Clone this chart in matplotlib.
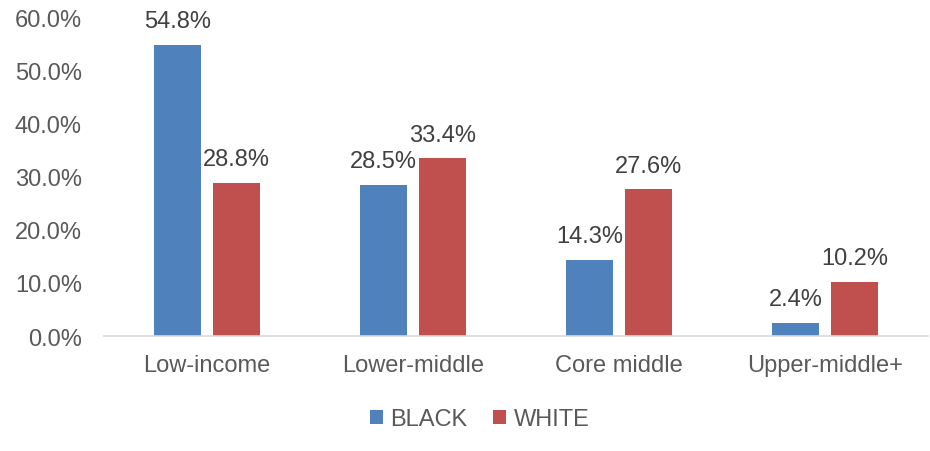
import numpy as np
import matplotlib
matplotlib.use('Agg')
import matplotlib.pyplot as plt
from matplotlib.ticker import FuncFormatter

categories = ['Low-income', 'Lower-middle', 'Core middle', 'Upper-middle+']
black = [54.8, 28.5, 14.3, 2.4]
white = [28.8, 33.4, 27.6, 10.2]
series_names = ['BLACK', 'WHITE']
colors = ['#4F81BD', '#C0504D']

plt.rcParams['font.family'] = ['Liberation Sans', 'DejaVu Sans']

fig = plt.figure(figsize=(9.3, 4.52), dpi=100)
ax = fig.add_axes([0.112, 0.2544, 0.886, 0.7056])

x = np.arange(len(categories))
w = 0.228
off = 0.143
b1 = ax.bar(x - off, black, w, color=colors[0], label=series_names[0])
b2 = ax.bar(x + off, white, w, color=colors[1], label=series_names[1])

for bars, vals in [(b1, black), (b2, white)]:
    for r, v in zip(bars, vals):
        ax.text(r.get_x() + r.get_width() / 2, v + 2.4, '%.1f%%' % v,
                ha='center', va='bottom', fontsize=17, color='#404040')

ax.set_xlim(-0.5, 3.5)
ax.set_ylim(0, 60)
ax.set_yticks(np.arange(0, 61, 10))
ax.yaxis.set_major_formatter(FuncFormatter(lambda v, p: '%.1f%%' % v))
ax.set_xticks(x)
ax.set_xticklabels(categories)
ax.tick_params(axis='both', length=0, labelsize=17, labelcolor='#595959')
ax.tick_params(axis='x', pad=13)
ax.tick_params(axis='y', pad=16)

for s in ['top', 'right', 'left']:
    ax.spines[s].set_visible(False)
ax.spines['bottom'].set_color('#D9D9D9')
ax.spines['bottom'].set_linewidth(1.2)

leg = fig.legend(loc='center', bbox_to_anchor=(0.516, 0.07), ncol=2, frameon=False,
                 fontsize=17, handlelength=0.55, handleheight=0.55, handletextpad=0.3,
                 columnspacing=1.1)
for t in leg.get_texts():
    t.set_color('#595959')

fig.savefig('out.png', dpi=100)
